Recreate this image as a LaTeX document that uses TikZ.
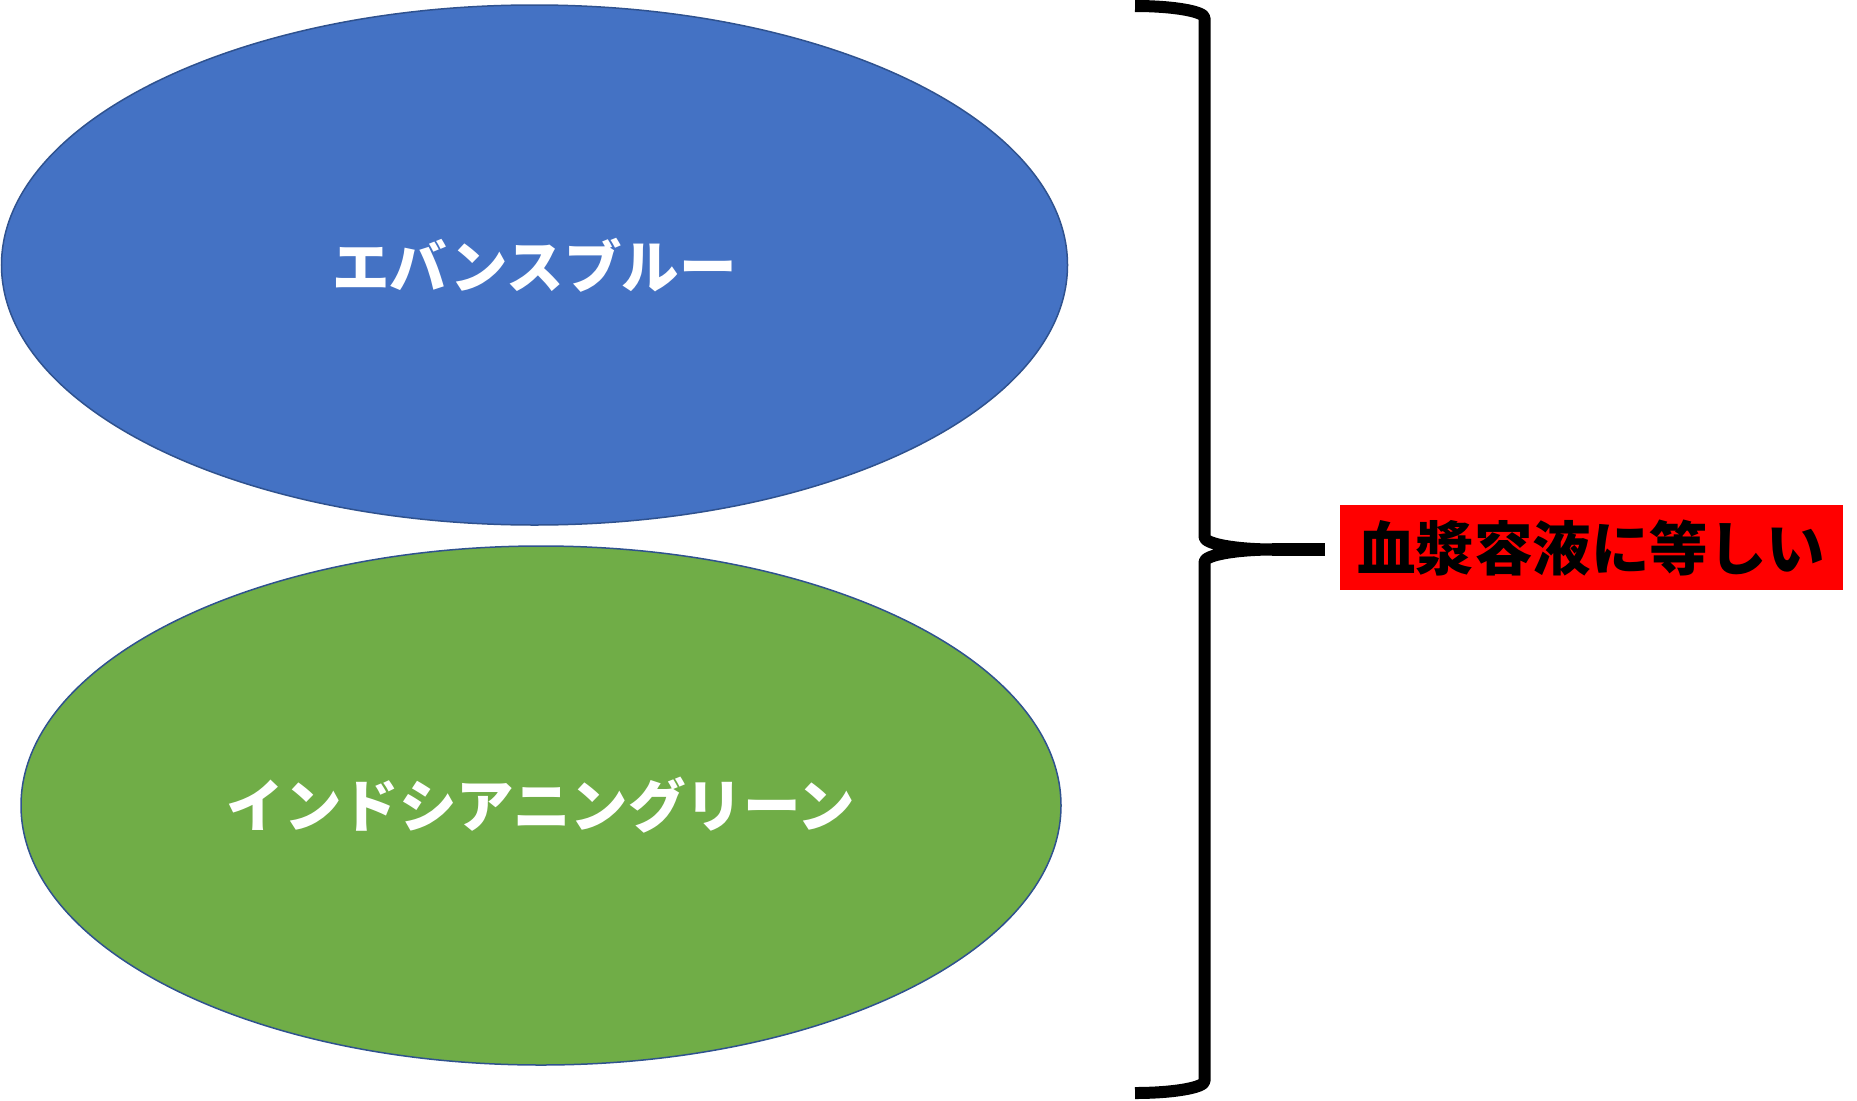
\documentclass[tikz,border=0pt]{standalone}
\usepackage{fontspec}
\newfontfamily\jp{Noto Sans CJK JP}
\usetikzlibrary{shapes.geometric}
\definecolor{eblue}{HTML}{4472C4}
\definecolor{egreen}{HTML}{70AD47}
\definecolor{edgeblue}{HTML}{2F528F}
\begin{document}
\begin{tikzpicture}[x=1pt,y=-1pt,
  blob/.style={ellipse, draw=edgeblue, line width=1.5pt, inner sep=0pt, text=white,
               font=\jp\bfseries\fontsize{57.5}{60}\selectfont},
  bracepath/.style={line width=12pt, line join=round, line cap=butt},
  conn/.style={line width=13pt, line cap=butt},
  resultbox/.style={fill=red, inner sep=0pt, minimum width=502.5pt, minimum height=85pt, text=black,
               font=\jp\bfseries\fontsize{58.5}{61}\selectfont}
]
\useasboundingbox (0,0) rectangle (1857,1100);
\node[blob, fill=eblue, minimum width=1066pt, minimum height=520pt] (evans) at (534.5,265)
  {\raisebox{4pt}{エバンスブルー}};
\node[blob, fill=egreen, minimum width=1040pt, minimum height=519pt] (icg) at (541,805.5)
  {\raisebox{1.5pt}{インドシアニングリーン}};
\node[resultbox] (plasma) at (1591.3,547.5) {\raisebox{2.5pt}{血漿容液に等しい}};
\draw[bracepath] (1135,6) .. controls (1173.4,6) and (1204.5,11.4) .. (1204.5,18)
  -- (1204.5,537) .. controls (1204.5,543.9) and (1235.6,549.5) .. (1274,549.5)
  .. controls (1235.6,549.5) and (1204.5,555.1) .. (1204.5,562)
  -- (1204.5,1081) .. controls (1204.5,1087.6) and (1173.4,1093) .. (1135,1093);
\coordinate (tip) at (1272,549.5);
\draw[conn, shorten >=15pt] (tip) -- (tip -| plasma.west);
\end{tikzpicture}
\end{document}
